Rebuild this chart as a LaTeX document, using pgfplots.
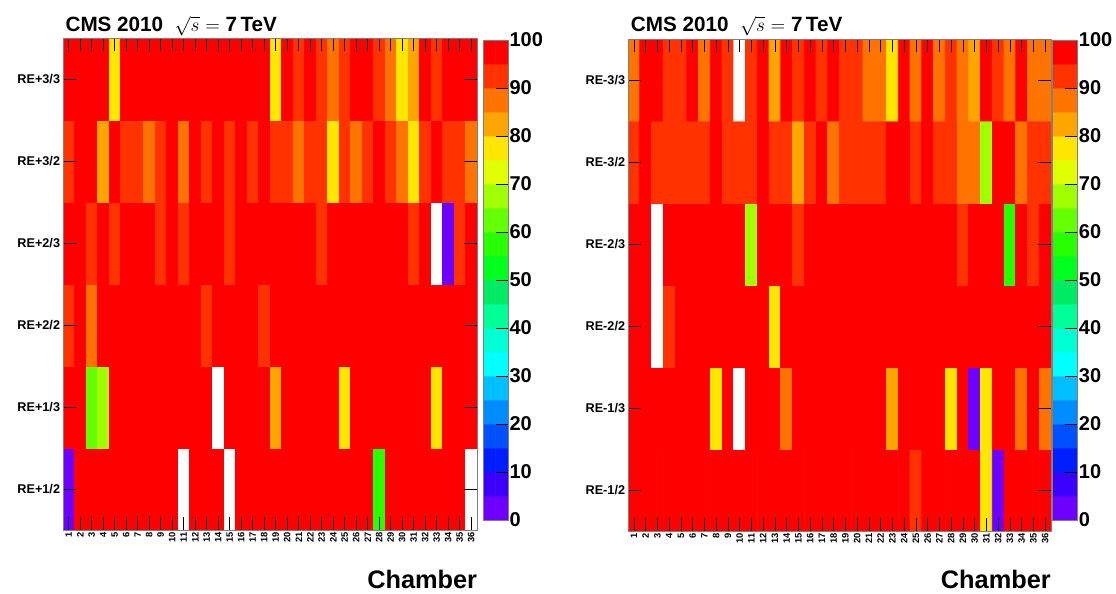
\documentclass[border=0pt]{standalone}
\usepackage{pgfplots}
\usepackage{pgfplotstable}
\pgfplotsset{compat=1.18}
\usepackage{fontspec}
\setmainfont{Liberation Sans}

\pgfplotsset{
 colormap={rootpal}{rgb255=(110,0,255) rgb255=(60,0,255) rgb255=(0,30,255) rgb255=(0,80,255) rgb255=(0,140,255) rgb255=(0,190,255) rgb255=(0,255,255) rgb255=(0,255,210) rgb255=(0,255,150) rgb255=(0,235,100) rgb255=(0,255,30) rgb255=(40,255,0) rgb255=(100,255,0) rgb255=(160,255,0) rgb255=(225,255,0) rgb255=(255,230,0) rgb255=(255,165,0) rgb255=(255,115,0) rgb255=(255,50,0) rgb255=(255,0,0) rgb255=(255,255,255)},
 heat/.style={
  scale only axis, height=369pt,
  xmin=0.5, xmax=36.5, ymin=0.5, ymax=6.5, enlargelimits=false,
  xtick={1,...,36}, ytick={1,...,6},
  /pgf/number format/assume math mode=true,
  tick align=inside, major tick length=9.5pt,
  x tick label style={rotate=90, anchor=east, font=\bfseries\fontsize{7}{7}\selectfont, inner sep=1.5pt},
  y tick label style={font=\bfseries\fontsize{9.5}{10}\selectfont, inner sep=2pt},
  tick style={black, line width=0.5pt},
  axis line style={gray, line width=0.6pt},
  axis on top,
  colormap name=rootpal, colormap access=direct,
 },
 cbar/.style={
  scale only axis, width=18.5pt, height=360pt,
  xmin=-0.5, xmax=1.5, ymin=0, ymax=100, enlargelimits=false,
  xtick=\empty, ytick={0,10,...,100}, ytick pos=right, yticklabel pos=right,
  /pgf/number format/assume math mode=true,
  tick align=inside, major tick length=9pt,
  tick style={black, line width=0.5pt},
  y tick label style={font=\bfseries\fontsize{15}{16}\selectfont, inner sep=1pt},
  axis line style={gray, line width=0.6pt},
  axis on top,
  colormap name=rootpal, colormap access=direct,
 },
}

\pgfplotstableread[row sep=\\]{
x y v\\
1 1 3\\ 2 1 98\\ 3 1 98\\ 4 1 98\\ 5 1 98\\ 6 1 98\\ 7 1 98\\ 8 1 98\\ 9 1 98\\ 10 1 98\\ 11 1 -1\\ 12 1 98\\ 13 1 98\\ 14 1 98\\ 15 1 -1\\ 16 1 98\\ 17 1 98\\ 18 1 98\\ 19 1 98\\ 20 1 98\\ 21 1 98\\ 22 1 98\\ 23 1 98\\ 24 1 98\\ 25 1 98\\ 26 1 98\\ 27 1 98\\ 28 1 57\\ 29 1 98\\ 30 1 98\\ 31 1 98\\ 32 1 98\\ 33 1 98\\ 34 1 98\\ 35 1 98\\ 36 1 -1\\
1 2 98\\ 2 2 98\\ 3 2 62\\ 4 2 67\\ 5 2 98\\ 6 2 98\\ 7 2 98\\ 8 2 98\\ 9 2 98\\ 10 2 98\\ 11 2 98\\ 12 2 98\\ 13 2 98\\ 14 2 -1\\ 15 2 98\\ 16 2 98\\ 17 2 98\\ 18 2 98\\ 19 2 82\\ 20 2 98\\ 21 2 98\\ 22 2 98\\ 23 2 98\\ 24 2 98\\ 25 2 77\\ 26 2 98\\ 27 2 98\\ 28 2 98\\ 29 2 98\\ 30 2 98\\ 31 2 98\\ 32 2 98\\ 33 2 77\\ 34 2 98\\ 35 2 98\\ 36 2 98\\
1 3 92\\ 2 3 98\\ 3 3 87\\ 4 3 98\\ 5 3 98\\ 6 3 98\\ 7 3 98\\ 8 3 98\\ 9 3 98\\ 10 3 98\\ 11 3 98\\ 12 3 98\\ 13 3 92\\ 14 3 98\\ 15 3 98\\ 16 3 98\\ 17 3 98\\ 18 3 92\\ 19 3 98\\ 20 3 98\\ 21 3 98\\ 22 3 98\\ 23 3 98\\ 24 3 98\\ 25 3 98\\ 26 3 98\\ 27 3 98\\ 28 3 98\\ 29 3 98\\ 30 3 98\\ 31 3 98\\ 32 3 98\\ 33 3 98\\ 34 3 98\\ 35 3 98\\ 36 3 98\\
1 4 98\\ 2 4 98\\ 3 4 92\\ 4 4 98\\ 5 4 92\\ 6 4 98\\ 7 4 98\\ 8 4 98\\ 9 4 92\\ 10 4 98\\ 11 4 92\\ 12 4 98\\ 13 4 98\\ 14 4 98\\ 15 4 92\\ 16 4 98\\ 17 4 98\\ 18 4 98\\ 19 4 98\\ 20 4 98\\ 21 4 98\\ 22 4 98\\ 23 4 92\\ 24 4 98\\ 25 4 98\\ 26 4 98\\ 27 4 98\\ 28 4 98\\ 29 4 98\\ 30 4 98\\ 31 4 92\\ 32 4 98\\ 33 4 -1\\ 34 4 3\\ 35 4 92\\ 36 4 98\\
1 5 92\\ 2 5 98\\ 3 5 98\\ 4 5 82\\ 5 5 98\\ 6 5 92\\ 7 5 92\\ 8 5 87\\ 9 5 92\\ 10 5 98\\ 11 5 87\\ 12 5 98\\ 13 5 92\\ 14 5 98\\ 15 5 92\\ 16 5 98\\ 17 5 92\\ 18 5 98\\ 19 5 92\\ 20 5 92\\ 21 5 87\\ 22 5 92\\ 23 5 92\\ 24 5 77\\ 25 5 92\\ 26 5 87\\ 27 5 92\\ 28 5 98\\ 29 5 92\\ 30 5 87\\ 31 5 77\\ 32 5 92\\ 33 5 98\\ 34 5 92\\ 35 5 92\\ 36 5 87\\
1 6 98\\ 2 6 98\\ 3 6 98\\ 4 6 98\\ 5 6 77\\ 6 6 98\\ 7 6 98\\ 8 6 98\\ 9 6 98\\ 10 6 98\\ 11 6 98\\ 12 6 98\\ 13 6 98\\ 14 6 98\\ 15 6 98\\ 16 6 98\\ 17 6 98\\ 18 6 98\\ 19 6 77\\ 20 6 98\\ 21 6 92\\ 22 6 98\\ 23 6 92\\ 24 6 87\\ 25 6 92\\ 26 6 98\\ 27 6 98\\ 28 6 92\\ 29 6 87\\ 30 6 77\\ 31 6 82\\ 32 6 98\\ 33 6 92\\ 34 6 98\\ 35 6 98\\ 36 6 98\\
}\plus

\pgfplotstableread[row sep=\\]{
x y v\\
1 1 98\\ 2 1 98\\ 3 1 98\\ 4 1 98\\ 5 1 98\\ 6 1 98\\ 7 1 98\\ 8 1 98\\ 9 1 98\\ 10 1 98\\ 11 1 98\\ 12 1 98\\ 13 1 98\\ 14 1 98\\ 15 1 98\\ 16 1 98\\ 17 1 98\\ 18 1 98\\ 19 1 98\\ 20 1 98\\ 21 1 98\\ 22 1 98\\ 23 1 98\\ 24 1 98\\ 25 1 92\\ 26 1 98\\ 27 1 98\\ 28 1 98\\ 29 1 98\\ 30 1 98\\ 31 1 77\\ 32 1 3\\ 33 1 98\\ 34 1 98\\ 35 1 98\\ 36 1 98\\
1 2 98\\ 2 2 98\\ 3 2 98\\ 4 2 98\\ 5 2 98\\ 6 2 98\\ 7 2 98\\ 8 2 77\\ 9 2 98\\ 10 2 -1\\ 11 2 98\\ 12 2 98\\ 13 2 98\\ 14 2 87\\ 15 2 98\\ 16 2 98\\ 17 2 98\\ 18 2 98\\ 19 2 98\\ 20 2 98\\ 21 2 98\\ 22 2 98\\ 23 2 82\\ 24 2 98\\ 25 2 98\\ 26 2 98\\ 27 2 98\\ 28 2 77\\ 29 2 98\\ 30 2 3\\ 31 2 77\\ 32 2 98\\ 33 2 98\\ 34 2 87\\ 35 2 98\\ 36 2 87\\
1 3 98\\ 2 3 98\\ 3 3 -1\\ 4 3 92\\ 5 3 98\\ 6 3 98\\ 7 3 98\\ 8 3 98\\ 9 3 98\\ 10 3 98\\ 11 3 98\\ 12 3 98\\ 13 3 77\\ 14 3 98\\ 15 3 98\\ 16 3 98\\ 17 3 98\\ 18 3 98\\ 19 3 98\\ 20 3 98\\ 21 3 98\\ 22 3 98\\ 23 3 98\\ 24 3 98\\ 25 3 98\\ 26 3 98\\ 27 3 98\\ 28 3 98\\ 29 3 98\\ 30 3 98\\ 31 3 98\\ 32 3 98\\ 33 3 98\\ 34 3 98\\ 35 3 98\\ 36 3 98\\
1 4 98\\ 2 4 98\\ 3 4 -1\\ 4 4 98\\ 5 4 98\\ 6 4 98\\ 7 4 98\\ 8 4 98\\ 9 4 98\\ 10 4 98\\ 11 4 67\\ 12 4 98\\ 13 4 98\\ 14 4 98\\ 15 4 92\\ 16 4 98\\ 17 4 98\\ 18 4 98\\ 19 4 98\\ 20 4 98\\ 21 4 98\\ 22 4 98\\ 23 4 98\\ 24 4 98\\ 25 4 98\\ 26 4 98\\ 27 4 98\\ 28 4 98\\ 29 4 92\\ 30 4 98\\ 31 4 98\\ 32 4 98\\ 33 4 57\\ 34 4 98\\ 35 4 92\\ 36 4 98\\
1 5 92\\ 2 5 98\\ 3 5 92\\ 4 5 92\\ 5 5 92\\ 6 5 92\\ 7 5 92\\ 8 5 98\\ 9 5 92\\ 10 5 92\\ 11 5 92\\ 12 5 98\\ 13 5 92\\ 14 5 92\\ 15 5 82\\ 16 5 92\\ 17 5 98\\ 18 5 87\\ 19 5 92\\ 20 5 92\\ 21 5 92\\ 22 5 92\\ 23 5 98\\ 24 5 98\\ 25 5 92\\ 26 5 98\\ 27 5 92\\ 28 5 92\\ 29 5 87\\ 30 5 87\\ 31 5 67\\ 32 5 98\\ 33 5 98\\ 34 5 87\\ 35 5 92\\ 36 5 92\\
1 6 87\\ 2 6 98\\ 3 6 98\\ 4 6 92\\ 5 6 92\\ 6 6 98\\ 7 6 87\\ 8 6 98\\ 9 6 92\\ 10 6 -1\\ 11 6 92\\ 12 6 98\\ 13 6 82\\ 14 6 98\\ 15 6 92\\ 16 6 98\\ 17 6 92\\ 18 6 98\\ 19 6 92\\ 20 6 92\\ 21 6 87\\ 22 6 87\\ 23 6 77\\ 24 6 98\\ 25 6 87\\ 26 6 98\\ 27 6 87\\ 28 6 92\\ 29 6 87\\ 30 6 82\\ 31 6 98\\ 32 6 92\\ 33 6 87\\ 34 6 98\\ 35 6 87\\ 36 6 87\\
}\minus

\pgfplotstableread[row sep=\\]{
x y v\\
0 2.5 2.5\\ 1 2.5 2.5\\ 0 7.5 7.5\\ 1 7.5 7.5\\ 0 12.5 12.5\\ 1 12.5 12.5\\ 0 17.5 17.5\\ 1 17.5 17.5\\
0 22.5 22.5\\ 1 22.5 22.5\\ 0 27.5 27.5\\ 1 27.5 27.5\\ 0 32.5 32.5\\ 1 32.5 32.5\\ 0 37.5 37.5\\ 1 37.5 37.5\\
0 42.5 42.5\\ 1 42.5 42.5\\ 0 47.5 47.5\\ 1 47.5 47.5\\ 0 52.5 52.5\\ 1 52.5 52.5\\ 0 57.5 57.5\\ 1 57.5 57.5\\
0 62.5 62.5\\ 1 62.5 62.5\\ 0 67.5 67.5\\ 1 67.5 67.5\\ 0 72.5 72.5\\ 1 72.5 72.5\\ 0 77.5 77.5\\ 1 77.5 77.5\\
0 82.5 82.5\\ 1 82.5 82.5\\ 0 87.5 87.5\\ 1 87.5 87.5\\ 0 92.5 92.5\\ 1 92.5 92.5\\ 0 97.5 97.5\\ 1 97.5 97.5\\
}\scale

\begin{document}
\begin{tikzpicture}
\useasboundingbox (0,0) rectangle (837pt,-444.75pt);

% ---- left panel ----
\begin{axis}[heat, width=310.5pt, at={(47.25pt,-28.5pt)}, anchor=north west,
  yticklabels={RE+1/2,RE+1/3,RE+2/2,RE+2/3,RE+3/2,RE+3/3}]
\addplot[matrix plot*, mesh/cols=36,
  point meta={ifthenelse(\thisrow{v}<0,20,min(floor(\thisrow{v}/5),19))}]
  table[x=x,y=y] {\plus};
\end{axis}
\begin{axis}[cbar, at={(362.5pt,-390pt)}, anchor=south west]
\addplot[matrix plot*, mesh/cols=2,
  point meta={min(floor(\thisrow{v}/5),19)}]
  table[x=x,y=y] {\scale};
\end{axis}
\node[anchor=base west, inner sep=0pt] at (49pt,-23.5pt)
  {\fontsize{15.5}{16}\selectfont\textbf{CMS 2010}\ \ $\sqrt{s}$ $=$ \textbf{7\,TeV}};
\node[anchor=base east, inner sep=0pt] at (358pt,-441.5pt)
  {\fontsize{19}{20}\selectfont\bfseries Chamber};

% ---- right panel ----
\begin{axis}[heat, width=317.25pt, at={(471pt,-29.25pt)}, anchor=north west,
  yticklabels={RE-1/2,RE-1/3,RE-2/2,RE-2/3,RE-3/2,RE-3/3}]
\addplot[matrix plot*, mesh/cols=36,
  point meta={ifthenelse(\thisrow{v}<0,20,min(floor(\thisrow{v}/5),19))}]
  table[x=x,y=y] {\minus};
\end{axis}
\begin{axis}[cbar, at={(789.5pt,-390pt)}, anchor=south west]
\addplot[matrix plot*, mesh/cols=2,
  point meta={min(floor(\thisrow{v}/5),19)}]
  table[x=x,y=y] {\scale};
\end{axis}
\node[anchor=base west, inner sep=0pt] at (473pt,-23.5pt)
  {\fontsize{15.5}{16}\selectfont\textbf{CMS 2010}\ \ $\sqrt{s}$ $=$ \textbf{7\,TeV}};
\node[anchor=base east, inner sep=0pt] at (788.25pt,-441.5pt)
  {\fontsize{19}{20}\selectfont\bfseries Chamber};
\end{tikzpicture}
\end{document}
